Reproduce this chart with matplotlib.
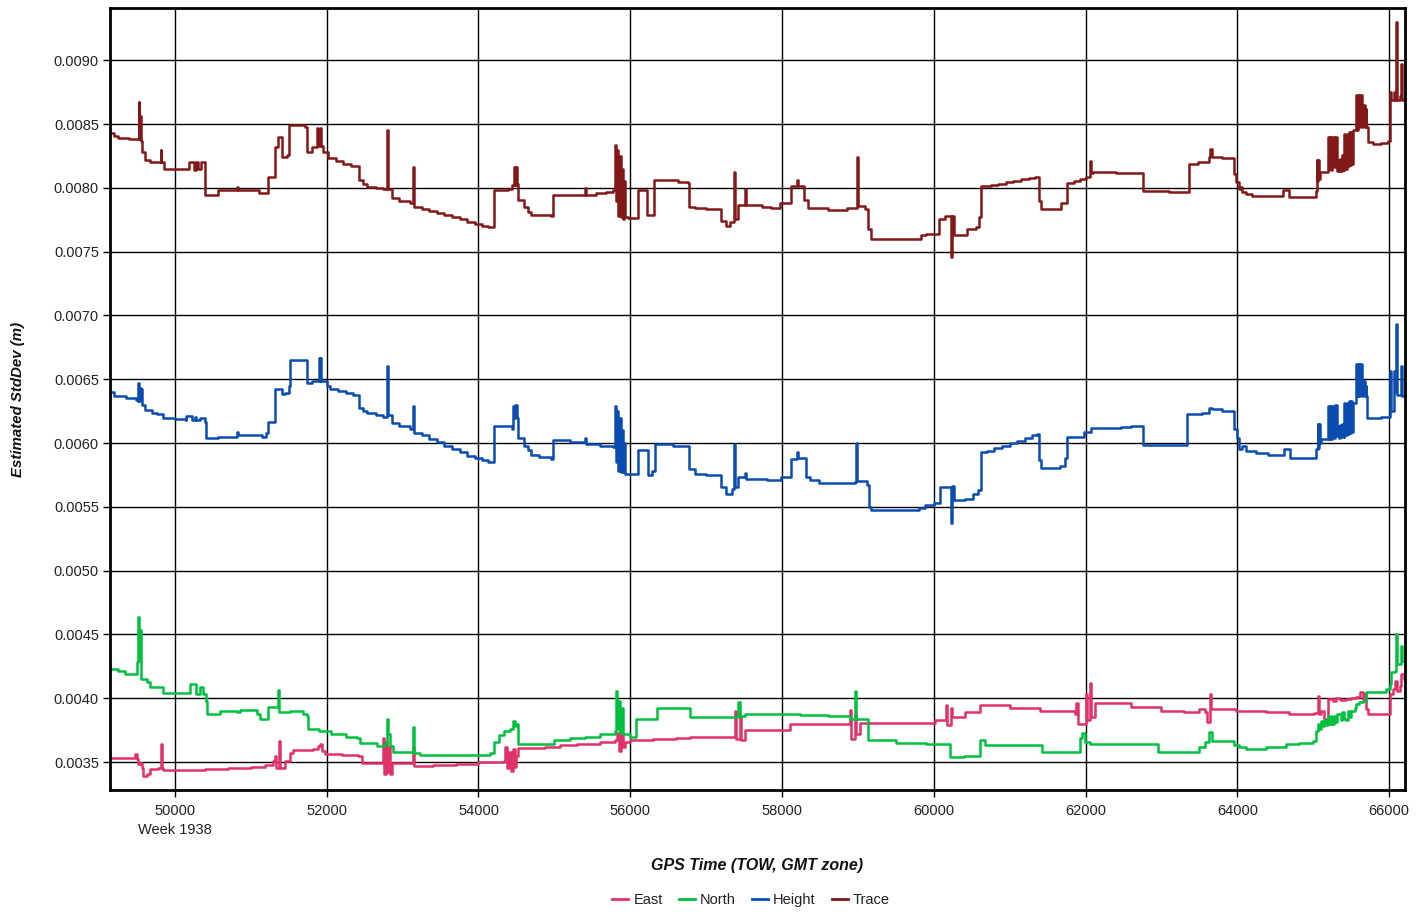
import matplotlib
matplotlib.use("Agg")
import matplotlib.pyplot as plt
from matplotlib.lines import Line2D

plt.rcParams['font.family'] = ['Liberation Sans', 'DejaVu Sans']

# (GPS time of week [s], estimated standard deviation [m]); each value holds until the next epoch
trace = [
    (49150, 0.00843), (49200, 0.00841), (49248, 0.00839), (49400, 0.008385), (49507, 0.00838),
    (49521, 0.00867), (49530, 0.00838), (49540, 0.00856), (49554, 0.00837), (49568, 0.008283),
    (49601, 0.008218), (49671, 0.008205), (49812, 0.008296), (49822, 0.008205), (49850, 0.008145),
    (50188, 0.008205), (50250, 0.00814), (50282, 0.008205), (50310, 0.00815), (50340, 0.008205),
    (50399, 0.007944), (50564, 0.007983), (50822, 0.00801), (50835, 0.007983), (51104, 0.007957),
    (51221, 0.008087), (51315, 0.008322), (51362, 0.008401), (51409, 0.008244), (51480, 0.008257),
    (51503, 0.008492), (51715, 0.008475), (51738, 0.008283), (51809, 0.008322), (51875, 0.008466),
    (51890, 0.00833), (51905, 0.008466), (51926, 0.00833), (51950, 0.008283), (52020, 0.008231),
    (52120, 0.00821), (52220, 0.00819), (52320, 0.008175), (52419, 0.008061), (52480, 0.00803),
    (52537, 0.008009), (52650, 0.008), (52748, 0.007991), (52795, 0.008453), (52805, 0.007995),
    (52866, 0.007918), (52950, 0.0079), (53100, 0.007879), (53138, 0.008166), (53148, 0.007847),
    (53250, 0.007835), (53350, 0.00782), (53450, 0.007805), (53550, 0.00779), (53650, 0.007775),
    (53750, 0.00776), (53850, 0.007735), (53950, 0.00772), (54050, 0.007705), (54120, 0.007696),
    (54205, 0.007983), (54393, 0.007988), (54440, 0.008022), (54463, 0.008166), (54475, 0.00802),
    (54495, 0.008166), (54505, 0.00803), (54519, 0.007905), (54600, 0.00785), (54651, 0.007813),
    (54698, 0.007787), (54956, 0.00778), (54980, 0.007944), (55403, 0.008), (55413, 0.007944),
    (55550, 0.00796), (55685, 0.00797), (55779, 0.007983), (55802, 0.008336), (55815, 0.0079),
    (55830, 0.0083), (55845, 0.00778), (55860, 0.00825), (55875, 0.00777), (55890, 0.00815),
    (55905, 0.00776), (55920, 0.00805), (55935, 0.00777), (55966, 0.007766), (56107, 0.007983),
    (56225, 0.007787), (56319, 0.008061), (56634, 0.008048), (56756, 0.00804), (56771, 0.007854),
    (56854, 0.00784), (57000, 0.007836), (57171, 0.007832), (57195, 0.007742), (57268, 0.0077),
    (57317, 0.007735), (57366, 0.008125), (57376, 0.00776), (57415, 0.007867), (57512, 0.007995),
    (57522, 0.007867), (57732, 0.007848), (57850, 0.00784), (57976, 0.007885), (58122, 0.008013),
    (58195, 0.008061), (58210, 0.008013), (58293, 0.007907), (58340, 0.00784), (58610, 0.007827),
    (58854, 0.00784), (58985, 0.00824), (58995, 0.00786), (59100, 0.007832), (59137, 0.007681),
    (59171, 0.0076), (59829, 0.007628), (59900, 0.007636), (60073, 0.00776), (60150, 0.00778),
    (60229, 0.00746), (60237, 0.00778), (60268, 0.007628), (60439, 0.00768), (60561, 0.007694),
    (60600, 0.00777), (60619, 0.008013), (60750, 0.00802), (60850, 0.008033), (60950, 0.008045),
    (61050, 0.008055), (61150, 0.008067), (61250, 0.008078), (61330, 0.008088), (61390, 0.007894),
    (61415, 0.007832), (61683, 0.007885), (61756, 0.00804), (61850, 0.008055), (61927, 0.008067),
    (62000, 0.008088), (62063, 0.008213), (62075, 0.00812), (62098, 0.008125), (62400, 0.00812),
    (62756, 0.007973), (63100, 0.007968), (63366, 0.008186), (63488, 0.0082), (63625, 0.00824),
    (63647, 0.008306), (63669, 0.00824), (63800, 0.008235), (63956, 0.00811), (63978, 0.008044),
    (64022, 0.007992), (64044, 0.008005), (64066, 0.007966), (64110, 0.007953), (64200, 0.00794),
    (64596, 0.00798), (64684, 0.007927), (65037, 0.007979), (65045, 0.008215), (65055, 0.00805),
    (65065, 0.008215), (65075, 0.00807), (65090, 0.008123), (65192, 0.008398), (65205, 0.00815),
    (65220, 0.008398), (65235, 0.00814), (65250, 0.008398), (65270, 0.00816), (65285, 0.008398),
    (65311, 0.008136), (65325, 0.00822), (65340, 0.00813), (65355, 0.00823), (65370, 0.00813),
    (65385, 0.00826), (65400, 0.00814), (65412, 0.008424), (65425, 0.00815), (65440, 0.008424),
    (65455, 0.00817), (65470, 0.008437), (65485, 0.00818), (65500, 0.008437), (65512, 0.00819),
    (65523, 0.00845), (65567, 0.008725), (65578, 0.00845), (65590, 0.008725), (65600, 0.00848),
    (65615, 0.008725), (65645, 0.00848), (65660, 0.00865), (65677, 0.00848), (65690, 0.00862),
    (65700, 0.008476), (65722, 0.008359), (65788, 0.00834), (65900, 0.008355), (65987, 0.008366),
    (66009, 0.008751), (66031, 0.008686), (66062, 0.008751), (66075, 0.00869), (66097, 0.009301),
    (66105, 0.00869), (66150, 0.00872), (66163, 0.008974), (66175, 0.008686), (66229, 0.008751),
]

height = [
    (49150, 0.0064), (49201, 0.006368), (49350, 0.006355), (49483, 0.006341), (49507, 0.006328),
    (49515, 0.006474), (49525, 0.00633), (49535, 0.00643), (49554, 0.00642), (49568, 0.006302),
    (49601, 0.006257), (49695, 0.006235), (49760, 0.006225), (49836, 0.006193), (50000, 0.006185),
    (50141, 0.006177), (50150, 0.006209), (50230, 0.00618), (50260, 0.006205), (50282, 0.00618),
    (50329, 0.006193), (50390, 0.006167), (50409, 0.006037), (50564, 0.00605), (50822, 0.00609),
    (50835, 0.006063), (51151, 0.00605), (51198, 0.006076), (51221, 0.006169), (51315, 0.006421),
    (51409, 0.006381), (51456, 0.006394), (51503, 0.006447), (51517, 0.006653), (51738, 0.006474),
    (51809, 0.006487), (51895, 0.006664), (51905, 0.00649), (51915, 0.006664), (51926, 0.00649),
    (52000, 0.00645), (52044, 0.006421), (52150, 0.00641), (52250, 0.00639), (52350, 0.006375),
    (52419, 0.006275), (52480, 0.006255), (52537, 0.006235), (52650, 0.00622), (52748, 0.006204),
    (52795, 0.006606), (52805, 0.00622), (52866, 0.006156), (52950, 0.00613), (53100, 0.006108),
    (53138, 0.006288), (53148, 0.006077), (53250, 0.00606), (53350, 0.00603), (53450, 0.006005),
    (53550, 0.00598), (53650, 0.00595), (53750, 0.00593), (53850, 0.0059), (53950, 0.005885),
    (54050, 0.005865), (54120, 0.005852), (54205, 0.00613), (54440, 0.006108), (54454, 0.006288),
    (54470, 0.0062), (54487, 0.0063), (54505, 0.0062), (54519, 0.006037), (54600, 0.00598),
    (54651, 0.005944), (54698, 0.005905), (54800, 0.00589), (54956, 0.005878), (54980, 0.006024),
    (55200, 0.006005), (55403, 0.00604), (55413, 0.005992), (55600, 0.00598), (55779, 0.005966),
    (55802, 0.006288), (55815, 0.00585), (55830, 0.00625), (55845, 0.00578), (55860, 0.0062),
    (55875, 0.005772), (55890, 0.0061), (55905, 0.00577), (55920, 0.006), (55935, 0.005759),
    (56107, 0.005944), (56229, 0.005746), (56293, 0.005785), (56327, 0.005992), (56561, 0.005979),
    (56771, 0.005798), (56854, 0.005754), (57000, 0.005748), (57195, 0.005655), (57268, 0.005604),
    (57342, 0.005642), (57366, 0.005992), (57376, 0.005655), (57415, 0.005733), (57512, 0.005765),
    (57522, 0.00572), (57805, 0.005707), (57990, 0.005738), (58122, 0.005876), (58195, 0.005927),
    (58210, 0.00588), (58317, 0.005733), (58366, 0.005707), (58488, 0.005686), (58960, 0.005694),
    (58976, 0.005997), (58986, 0.0057), (59122, 0.005668), (59146, 0.0055), (59171, 0.005474),
    (59805, 0.005495), (59878, 0.005513), (60000, 0.005531), (60083, 0.005655), (60229, 0.005376),
    (60237, 0.00566), (60268, 0.005552), (60415, 0.005565), (60512, 0.005604), (60585, 0.00563),
    (60619, 0.005927), (60700, 0.00594), (60800, 0.00596), (60900, 0.00598), (61000, 0.006),
    (61100, 0.00602), (61200, 0.00604), (61300, 0.00606), (61360, 0.006075), (61390, 0.005868),
    (61415, 0.005806), (61659, 0.005824), (61732, 0.005884), (61756, 0.006044), (61976, 0.006083),
    (62073, 0.006122), (62463, 0.006127), (62600, 0.006135), (62756, 0.005987), (63341, 0.006225),
    (63537, 0.006238), (63625, 0.006277), (63669, 0.006264), (63800, 0.00625), (63956, 0.006107),
    (64000, 0.006042), (64022, 0.00595), (64066, 0.005976), (64110, 0.005937), (64243, 0.005919),
    (64400, 0.00591), (64610, 0.00595), (64693, 0.005885), (65037, 0.00595), (65060, 0.006147),
    (65068, 0.00596), (65080, 0.006147), (65090, 0.006), (65104, 0.006029), (65192, 0.006291),
    (65205, 0.00603), (65220, 0.006291), (65235, 0.00603), (65250, 0.006291), (65270, 0.00604),
    (65290, 0.006296), (65311, 0.006055), (65325, 0.00613), (65340, 0.00604), (65355, 0.00614),
    (65370, 0.00605), (65385, 0.00615), (65400, 0.00605), (65412, 0.006317), (65425, 0.00606),
    (65440, 0.006317), (65455, 0.00607), (65470, 0.00633), (65485, 0.00608), (65500, 0.00633),
    (65512, 0.00609), (65523, 0.006317), (65567, 0.006618), (65578, 0.006369), (65590, 0.006618),
    (65600, 0.006369), (65615, 0.006618), (65647, 0.006369), (65660, 0.006487), (65677, 0.006369),
    (65690, 0.00645), (65700, 0.006369), (65713, 0.006199), (65900, 0.006205), (66009, 0.006565),
    (66031, 0.006251), (66062, 0.006565), (66075, 0.0064), (66097, 0.006932), (66105, 0.00638),
    (66163, 0.006605), (66175, 0.006369), (66229, 0.006422),
]

north = [
    (49150, 0.004232), (49250, 0.004213), (49341, 0.004192), (49494, 0.004284), (49516, 0.00464),
    (49528, 0.0043), (49538, 0.004535), (49551, 0.004153), (49626, 0.004127), (49670, 0.004092),
    (49846, 0.00404), (50198, 0.004108), (50277, 0.00403), (50330, 0.004092), (50365, 0.004034),
    (50409, 0.003982), (50418, 0.003876), (50594, 0.003902), (50813, 0.003889), (50857, 0.003908),
    (51077, 0.003876), (51121, 0.003837), (51231, 0.003929), (51363, 0.004066), (51375, 0.003889),
    (51517, 0.003902), (51692, 0.003876), (51736, 0.003863), (51758, 0.003758), (51900, 0.00374),
    (52050, 0.00372), (52250, 0.0037), (52396, 0.003692), (52440, 0.003653), (52660, 0.003626),
    (52769, 0.003653), (52791, 0.003837), (52801, 0.00372), (52835, 0.003626), (52879, 0.003582),
    (53143, 0.003771), (53153, 0.003574), (53231, 0.003555), (54150, 0.00357), (54200, 0.00366),
    (54264, 0.003713), (54330, 0.00374), (54420, 0.00376), (54460, 0.00382), (54475, 0.00378),
    (54500, 0.0038), (54521, 0.00364), (55000, 0.00367), (55200, 0.00369), (55400, 0.0037),
    (55600, 0.00372), (55800, 0.00374), (55810, 0.00406), (55825, 0.00376), (55850, 0.00398),
    (55865, 0.00373), (55890, 0.00392), (55905, 0.00372), (55997, 0.0037), (56076, 0.00384),
    (56353, 0.00392), (56788, 0.00385), (57420, 0.00397), (57440, 0.00386), (57513, 0.00388),
    (58238, 0.00387), (58600, 0.00386), (58897, 0.00384), (58962, 0.00406), (58972, 0.00384),
    (59134, 0.00367), (59500, 0.00365), (59900, 0.00364), (60215, 0.00354), (60400, 0.00355),
    (60610, 0.00367), (60676, 0.00363), (61427, 0.00358), (61928, 0.00369), (61960, 0.00373),
    (61990, 0.00366), (62060, 0.00364), (62950, 0.00358), (63492, 0.003617), (63581, 0.003656),
    (63625, 0.003734), (63669, 0.003669), (63956, 0.00363), (64022, 0.003617), (64110, 0.003604),
    (64375, 0.003617), (64640, 0.003638), (64817, 0.003648), (64993, 0.003669), (65037, 0.003747),
    (65060, 0.0038), (65080, 0.00376), (65100, 0.00382), (65120, 0.00378), (65148, 0.003826),
    (65170, 0.00379), (65192, 0.003865), (65210, 0.0038), (65230, 0.00386), (65250, 0.0038),
    (65270, 0.003865), (65302, 0.003813), (65320, 0.00388), (65346, 0.003878), (65365, 0.00383),
    (65385, 0.00389), (65410, 0.00384), (65435, 0.003826), (65455, 0.0039), (65480, 0.00385),
    (65500, 0.0039), (65523, 0.003904), (65545, 0.00392), (65567, 0.003956), (65610, 0.00397),
    (65655, 0.003982), (65700, 0.004047), (65965, 0.004073), (66009, 0.004112), (66031, 0.004203),
    (66075, 0.004216), (66097, 0.004503), (66107, 0.004268), (66163, 0.004411), (66175, 0.00429),
    (66229, 0.004282),
]

east = [
    (49150, 0.003534), (49472, 0.00356), (49494, 0.003521), (49516, 0.003481), (49538, 0.003495),
    (49560, 0.003455), (49582, 0.003389), (49626, 0.003403), (49670, 0.003442), (49780, 0.003455),
    (49815, 0.00364), (49825, 0.003455), (49846, 0.003434), (50100, 0.00344), (50400, 0.003445),
    (50700, 0.003455), (51000, 0.003465), (51187, 0.003476), (51297, 0.003508), (51319, 0.003547),
    (51330, 0.003455), (51376, 0.003666), (51386, 0.003455), (51451, 0.003508), (51517, 0.003574),
    (51561, 0.003595), (51824, 0.0036), (51890, 0.003626), (51912, 0.00364), (51934, 0.003587),
    (51978, 0.00356), (52200, 0.003555), (52418, 0.003547), (52462, 0.003495), (52747, 0.003692),
    (52760, 0.003403), (52780, 0.00366), (52795, 0.00342), (52815, 0.00362), (52835, 0.003403),
    (52857, 0.00349), (53143, 0.003621), (53153, 0.003468), (53400, 0.003475), (53700, 0.003485),
    (54000, 0.0035), (54330, 0.003505), (54350, 0.00362), (54370, 0.00345), (54400, 0.00358),
    (54430, 0.00343), (54455, 0.0036), (54480, 0.00346), (54500, 0.00355), (54521, 0.00361),
    (54877, 0.003615), (55074, 0.00363), (55300, 0.00364), (55600, 0.003655), (55800, 0.00367),
    (55826, 0.00373), (55850, 0.00359), (55880, 0.00372), (55910, 0.00362), (55931, 0.00366),
    (56000, 0.00367), (56300, 0.00368), (56600, 0.00369), (56788, 0.003694), (57381, 0.0039),
    (57395, 0.00368), (57440, 0.00385), (57455, 0.00367), (57513, 0.00375), (58106, 0.0038),
    (58897, 0.00391), (58915, 0.00368), (58960, 0.00388), (58975, 0.00372), (59028, 0.00381),
    (60017, 0.00383), (60160, 0.00395), (60175, 0.00379), (60230, 0.00392), (60245, 0.00385),
    (60412, 0.00389), (60610, 0.003945), (61000, 0.00392), (61400, 0.0039), (61862, 0.00388),
    (61880, 0.00396), (61905, 0.0038), (62000, 0.00403), (62015, 0.00383), (62060, 0.00412),
    (62075, 0.00385), (62126, 0.00396), (62600, 0.00393), (63000, 0.0039), (63300, 0.00389),
    (63492, 0.003917), (63581, 0.003891), (63603, 0.003813), (63640, 0.004034), (63650, 0.003917),
    (63978, 0.003904), (64375, 0.003891), (64684, 0.003878), (65015, 0.003883), (65060, 0.004021),
    (65075, 0.00388), (65104, 0.003904), (65148, 0.003839), (65192, 0.003995), (65258, 0.003982),
    (65300, 0.004), (65350, 0.00399), (65435, 0.003995), (65500, 0.004), (65567, 0.004008),
    (65611, 0.004047), (65655, 0.003995), (65677, 0.004034), (65700, 0.003917), (65722, 0.003878),
    (66009, 0.004034), (66053, 0.004073), (66075, 0.004138), (66106, 0.00406), (66141, 0.004099),
    (66163, 0.00419), (66194, 0.004151), (66229, 0.004143),
]

x_ticks = [50000, 52000, 54000, 56000, 58000, 60000, 62000, 64000, 66000]
y_ticks = [0.0035, 0.0040, 0.0045, 0.0050, 0.0055, 0.0060, 0.0065, 0.0070, 0.0075, 0.0080, 0.0085, 0.0090]
week_label = "Week 1938"

series = [
    ("East", east, "#e03268"),
    ("North", north, "#00c040"),
    ("Height", height, "#0a4cb0"),
    ("Trace", trace, "#821818"),
]

fig = plt.figure(figsize=(14.25, 9.13), dpi=100)
ax = fig.add_axes([0.0772, 0.1347, 0.9088, 0.8563])

for name, pts, c in series:
    t = [p[0] for p in pts]
    v = [p[1] for p in pts]
    ax.plot(t, v, color=c, lw=1.8, drawstyle='steps-post', zorder=3)

ax.set_xlim(49144, 66211)
ax.set_ylim(0.003281, 0.009408)
ax.set_xticks(x_ticks)
ax.set_yticks(y_ticks)
ax.set_xticklabels([str(x) for x in x_ticks])
ax.set_yticklabels([f"{y:.4f}" for y in y_ticks])
ax.grid(True, color='black', lw=1.0, zorder=1)
ax.tick_params(axis='both', direction='out', length=5, width=1.0, color='black',
               labelsize=10.5, labelcolor='#222222')
ax.tick_params(axis='x', pad=5)
ax.tick_params(axis='y', pad=3)
for s in ax.spines.values():
    s.set_linewidth(2.0)
    s.set_color('black')
    s.set_zorder(4)

ax.text(50000, 0.00302, week_label, ha='center', va='top', fontsize=10.5, color='#222222',
        clip_on=False)

ax.set_xlabel("GPS Time (TOW, GMT zone)", fontsize=11.5, fontweight='bold', fontstyle='italic',
              color='#111111', va='top')
ax.xaxis.set_label_coords(0.5, -0.0865)
ax.set_ylabel("Estimated StdDev (m)", fontsize=10.8, fontweight='bold', fontstyle='italic',
              color='#111111')
ax.yaxis.set_label_coords(-0.0655, 0.5)

handles = [Line2D([], [], color=c, lw=2) for _, _, c in series]
fig.legend(handles, [n for n, _, _ in series], loc='center', bbox_to_anchor=(0.527, 0.014),
           ncol=4, frameon=False, fontsize=10.5, handlelength=1.1, handletextpad=0.35,
           columnspacing=1.1, labelcolor='#222222')

fig.savefig("out.png", dpi=100)
